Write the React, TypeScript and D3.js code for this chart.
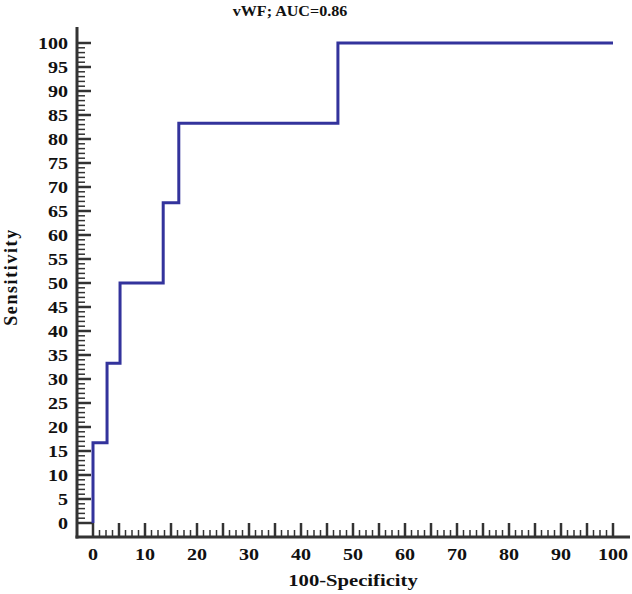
import React from "react";
import * as d3 from "d3";

// ROC curve points (100-Specificity, Sensitivity)
const fpr = [0, 0, 2.7, 2.7, 5.2, 5.2, 13.5, 13.5, 16.5, 16.5, 47.1, 47.1, 100];
const tpr = [0, 16.7, 16.7, 33.3, 33.3, 50, 50, 66.7, 66.7, 83.3, 83.3, 100, 100];

const xLabels = [0, 10, 20, 30, 40, 50, 60, 70, 80, 90, 100];
const yLabels = [0, 5, 10, 15, 20, 25, 30, 35, 40, 45, 50, 55, 60, 65, 70, 75, 80, 85, 90, 95, 100];
const title = "vWF; AUC=0.86";

const W = 632;
const H = 594;
const axisX = 77; // y axis line position
const axisY = 537; // x axis line position
const axisColor = "#333";
const font = "'Liberation Serif', 'Times New Roman', serif";
const stretch = 1.18; // text in the reference is wider than it is tall

export default function App() {
  const x = d3.scaleLinear().domain([0, 100]).range([93, 613]);
  const y = d3.scaleLinear().domain([0, 100]).range([523, 43]);

  const points: [number, number][] = fpr.map((v, i) => [v, tpr[i]]);
  const line = d3
    .line<[number, number]>()
    .x((d) => x(d[0]))
    .y((d) => y(d[1]));

  const yMinor = d3.range(0, 101, 1).filter((v) => v % 5 !== 0);
  const yMajor = d3.range(0, 101, 5);
  const xMinor = d3.range(0, 100.01, 1.25).filter((v) => v % 5 !== 0);
  const xMajor = d3.range(0, 101, 5);

  const txt = { fontFamily: font, fontWeight: "bold" as const, fill: "#111" };

  return (
    <svg
      width={W}
      height={H}
      style={{ position: "absolute", left: 0, top: 0, background: "#fff" }}
    >
      <text transform={`translate(290,16) scale(1.15,1)`} textAnchor="middle" fontSize={14} {...txt}>
        {title}
      </text>

      {/* y ticks */}
      {yMinor.map((v) => (
        <line key={"ym" + v} x1={axisX} x2={axisX + 8} y1={y(v)} y2={y(v)} stroke={axisColor} strokeWidth={1.5} />
      ))}
      {yMajor.map((v) => (
        <line key={"yM" + v} x1={axisX} x2={v === 0 ? 93 : axisX + 14} y1={y(v)} y2={y(v)} stroke={axisColor} strokeWidth={2.5} />
      ))}
      {yLabels.map((v) => (
        <text
          key={"yl" + v}
          transform={`translate(68,${y(v)}) scale(${stretch},1)`}
          dy="0.35em"
          textAnchor="end"
          fontSize={17}
          {...txt}
        >
          {v}
        </text>
      ))}

      {/* x ticks */}
      {xMinor.map((v) => (
        <line key={"xm" + v} x1={x(v)} x2={x(v)} y1={axisY} y2={axisY - 7} stroke={axisColor} strokeWidth={1.5} />
      ))}
      {xMajor.map((v) => (
        <line key={"xM" + v} x1={x(v)} x2={x(v)} y1={axisY} y2={axisY - 14} stroke={axisColor} strokeWidth={2.5} />
      ))}
      {xLabels.map((v) => (
        <text
          key={"xl" + v}
          transform={`translate(${x(v)},560) scale(${stretch},1)`}
          textAnchor="middle"
          fontSize={17}
          {...txt}
        >
          {v}
        </text>
      ))}

      {/* axis lines */}
      <line x1={axisX} x2={axisX} y1={27} y2={axisY + 1.5} stroke={axisColor} strokeWidth={3} />
      <line x1={axisX - 1.5} x2={630} y1={axisY} y2={axisY} stroke={axisColor} strokeWidth={3} />

      <path d={line(points) || ""} fill="none" stroke="#33339c" strokeWidth={3} />

      <text transform={`translate(353,586) scale(${stretch},1)`} textAnchor="middle" fontSize={17.5} {...txt}>
        100-Specificity
      </text>
      <text
        transform="translate(17,277) rotate(-90)"
        textAnchor="middle"
        fontSize={18}
        letterSpacing={1.6}
        {...txt}
      >
        Sensitivity
      </text>
    </svg>
  );
}
